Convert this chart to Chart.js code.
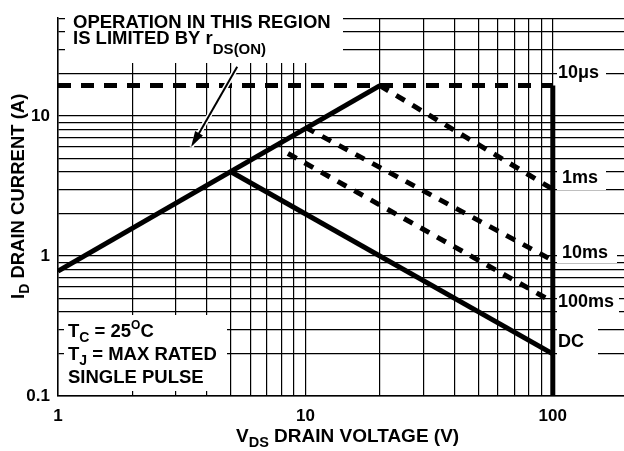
<!DOCTYPE html>
<html>
<head>
<meta charset="utf-8">
<script src="https://cdn.jsdelivr.net/npm/chart.js@4.4.1/dist/chart.umd.min.js"></script>
<style>
    html, body { margin: 0; padding: 0; background: #fff; }
    canvas { display: block; }
</style>
</head>
<body>
<canvas id="soa" width="624" height="451"></canvas>
<script>
// grid lines of the log axes, and the ones that carry a label
var xGrid = [1, 2, 3, 4, 5, 6, 7, 8, 9, 10, 20, 30, 40, 50, 60, 70, 80, 90, 100];
var xLabels = [1, 10, 100];
var yGrid = [0.1, 0.2, 0.3, 0.4, 0.5, 0.6, 0.7, 0.8, 0.9,
             1, 2, 3, 4, 5, 6, 7, 8, 9, 10, 20, 30, 40, 50];
var yLabels = [0.1, 1, 10];

// safe operating area boundaries, [VDS (V), ID (A)]
var rdsOn      = [[1, 0.78], [20, 16.5]];
var pulse10us  = [[1, 16.5], [100, 16.5]];
var vdsMax     = [[100, 16.5], [100, 0.1]];
var pulse1ms   = [[20, 16.5], [100, 3.0]];
var pulse10ms  = [[10, 8.3], [100, 0.93]];
var pulse100ms = [[8.5, 5.4], [100, 0.47]];
var dcLine     = [[5, 4.0], [100, 0.2]];

var FONT = '"Liberation Sans", Arial, Helvetica, sans-serif';

function pts(arr) {
    return arr.map(function(p){ return {x: p[0], y: p[1]}; });
}

function line(arr, dash) {
    return {
        data: pts(arr),
        borderColor: '#000',
        borderWidth: 5,
        borderDash: dash || [],
        borderCapStyle: 'butt',
        pointRadius: 0,
        fill: false,
        tension: 0
    };
}

// text with sub/superscripts: parts = [[text, size, dy], ...]
function rich(ctx, x, y, parts) {
    parts.forEach(function(p){
        ctx.font = 'bold ' + p[1] + 'px ' + FONT;
        ctx.fillText(p[0], x, y + (p[2] || 0));
        x += ctx.measureText(p[0]).width;
    });
}

function whiteBox(ctx, x0, y0, x1, y1) {
    ctx.fillStyle = '#fff';
    ctx.fillRect(x0, y0, x1 - x0, y1 - y0);
}

var notes = {
    id: 'notes',
    beforeDatasetsDraw: function(chart){
        var ctx = chart.ctx;
        ctx.save();

        // boxes hiding the grid under the notes
        whiteBox(ctx, 65, 9, 343, 63);
        whiteBox(ctx, 64, 315, 227, 391);
        whiteBox(ctx, 557, 60, 606, 86);
        whiteBox(ctx, 557, 165, 606, 190);
        whiteBox(ctx, 557, 241, 617, 263);
        whiteBox(ctx, 557, 289, 619, 313);
        whiteBox(ctx, 557, 329, 598, 362);

        ctx.fillStyle = '#000';
        ctx.textAlign = 'left';
        ctx.textBaseline = 'alphabetic';

        rich(ctx, 73, 28, [['OPERATION IN THIS REGION', 18.5]]);
        rich(ctx, 73, 43.5, [['IS LIMITED BY r', 18.5], ['DS(ON)', 15, 10.5]]);

        rich(ctx, 68, 337, [['T', 18.5], ['C', 14, 5], [' = 25', 18.5], ['O', 12, -8], ['C', 18.5]]);
        rich(ctx, 68, 360, [['T', 18.5], ['J', 14, 5], [' = MAX RATED', 18.5]]);
        rich(ctx, 68, 383, [['SINGLE PULSE', 18.5]]);

        rich(ctx, 558, 78, [['10\u03bcs', 18]]);
        rich(ctx, 562, 183, [['1ms', 18]]);
        rich(ctx, 562, 258, [['10ms', 18]]);
        rich(ctx, 558, 307, [['100ms', 18]]);
        rich(ctx, 558, 347, [['DC', 18]]);

        // axis titles
        rich(ctx, 236, 442, [['V', 19], ['DS', 14.5, 5], [' DRAIN VOLTAGE (V)', 19]]);
        ctx.translate(24, 299);
        ctx.rotate(-Math.PI / 2);
        rich(ctx, 0, 0, [['I', 18.5], ['D', 14, 5], [' DRAIN CURRENT (A)', 18.5]]);

        ctx.restore();
    },
    afterDatasetsDraw: function(chart){
        var ctx = chart.ctx, sx = chart.scales.x, sy = chart.scales.y;
        var x0 = sx.getPixelForValue(5.3), y0 = sy.getPixelForValue(22.5);
        var x1 = sx.getPixelForValue(3.45), y1 = sy.getPixelForValue(6.0);
        var a = Math.atan2(y1 - y0, x1 - x0);
        var c = Math.cos(a), s = Math.sin(a);
        ctx.save();
        ctx.lineCap = 'butt';
        ctx.strokeStyle = '#fff';
        ctx.lineWidth = 5;
        ctx.beginPath(); ctx.moveTo(x0, y0); ctx.lineTo(x1, y1); ctx.stroke();
        ctx.strokeStyle = '#000';
        ctx.lineWidth = 2;
        ctx.beginPath(); ctx.moveTo(x0, y0); ctx.lineTo(x1 - 10 * c, y1 - 10 * s); ctx.stroke();
        ctx.fillStyle = '#000';
        ctx.beginPath();
        ctx.moveTo(x1, y1);
        ctx.lineTo(x1 - 16 * c + 4.5 * s, y1 - 16 * s - 4.5 * c);
        ctx.lineTo(x1 - 16 * c - 4.5 * s, y1 - 16 * s + 4.5 * c);
        ctx.closePath();
        ctx.fill();
        ctx.restore();
    }
};

var tickFont = { family: FONT, size: 17, weight: 'bold' };

new Chart(document.getElementById('soa').getContext('2d'), {
    type: 'line',
    data: {
        datasets: [
            line(rdsOn),
            line(pulse10us, [13, 10]),
            line(vdsMax),
            line(pulse1ms, [10, 9]),
            line(pulse10ms, [10, 9]),
            line(pulse100ms, [10, 9]),
            line(dcLine)
        ]
    },
    options: {
        responsive: false,
        animation: false,
        layout: { padding: { top: 6, right: 0, bottom: 0, left: 0 } },
        plugins: { legend: { display: false }, tooltip: { enabled: false } },
        scales: {
            x: {
                type: 'logarithmic',
                min: 1,
                max: 194,
                afterBuildTicks: function(s){ s.ticks = xGrid.map(function(v){ return {value: v}; }); },
                afterFit: function(s){ s.height = 55; },
                grid: { color: '#000', lineWidth: 1.2, drawTicks: false },
                border: { color: '#000', width: 1.5 },
                ticks: {
                    autoSkip: false, maxRotation: 0, padding: 10, color: '#000', font: tickFont,
                    callback: function(v){ return xLabels.indexOf(v) >= 0 ? String(v) : ''; }
                }
            },
            y: {
                type: 'logarithmic',
                min: 0.1,
                max: 50,
                afterBuildTicks: function(s){ s.ticks = yGrid.map(function(v){ return {value: v}; }); },
                afterFit: function(s){ s.width = 58; },
                grid: { color: '#000', lineWidth: 1.2, drawTicks: false },
                border: { color: '#000', width: 1.5 },
                ticks: {
                    autoSkip: false, padding: 8, color: '#000', font: tickFont,
                    callback: function(v){ return yLabels.indexOf(v) >= 0 ? String(v) : ''; }
                }
            }
        }
    },
    plugins: [notes]
});
</script>
</body>
</html>
